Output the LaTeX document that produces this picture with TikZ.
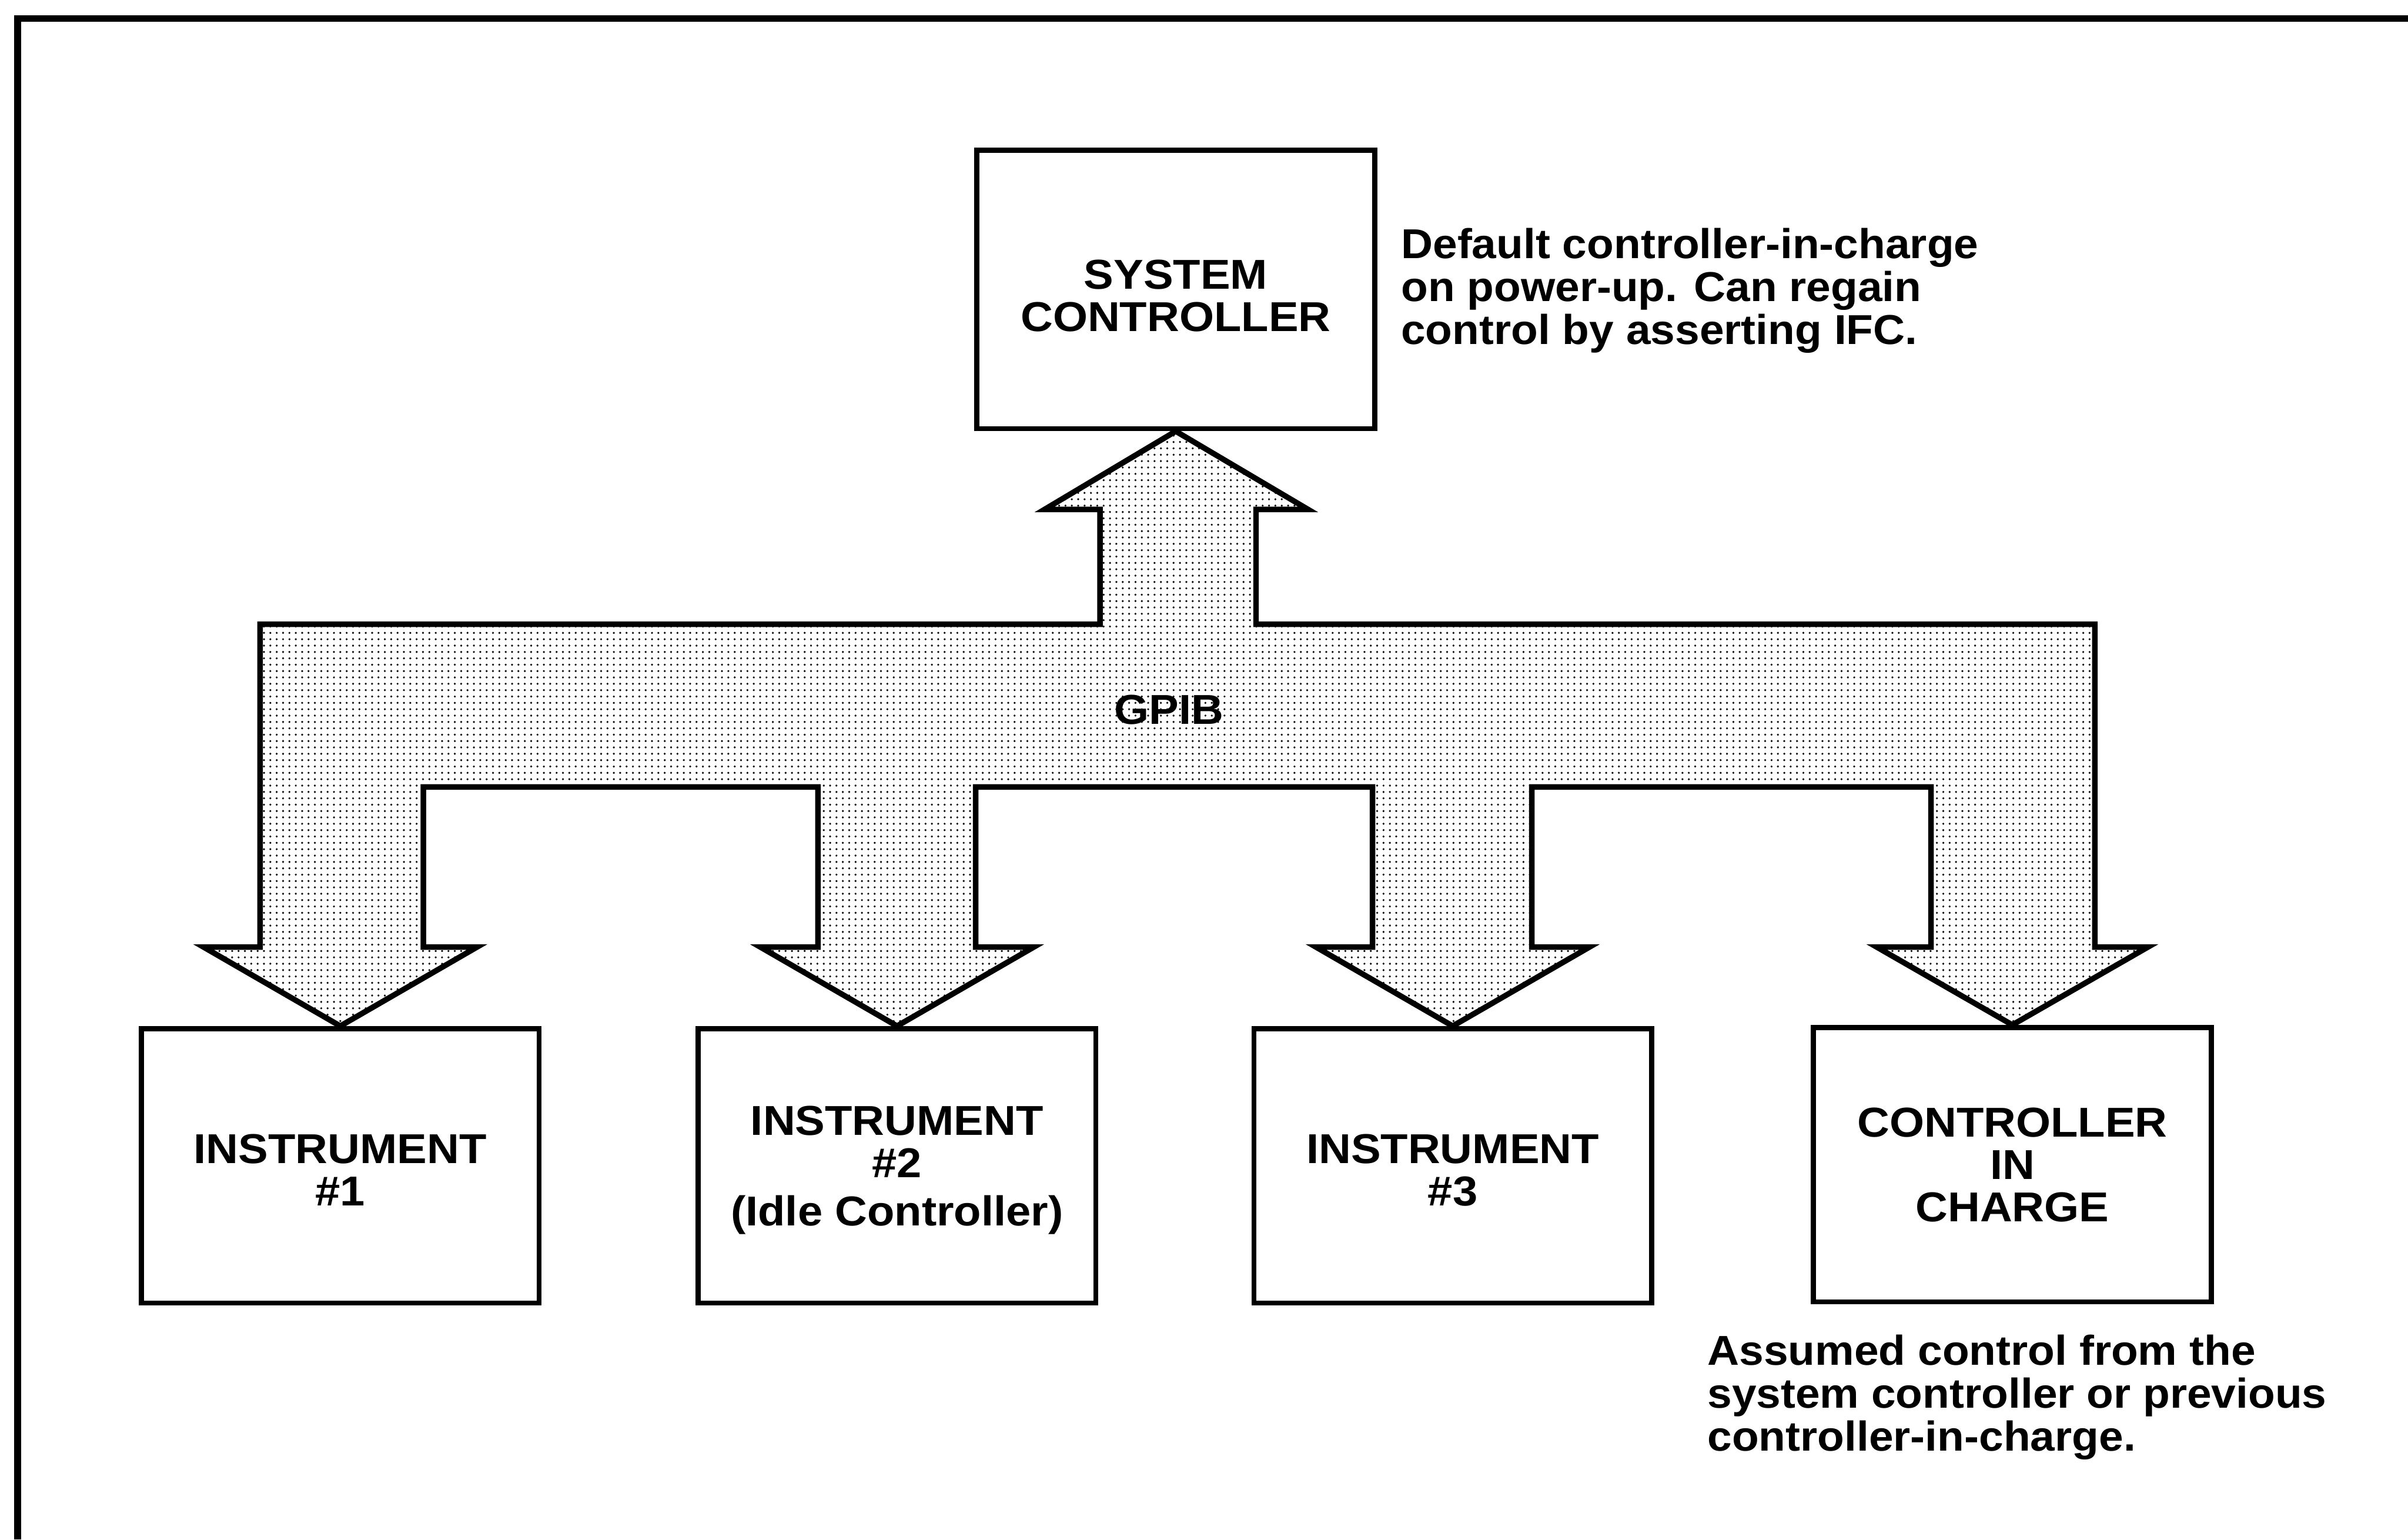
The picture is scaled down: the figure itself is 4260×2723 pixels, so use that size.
\documentclass[tikz,border=0pt]{standalone}
\usepackage{fontspec}
\newfontfamily\lblfont[FakeStretch=1.07]{Liberation Sans Bold}
\newfontfamily\notefont[FakeStretch=1.055]{Liberation Sans Bold}
\usetikzlibrary{patterns}
\pgfdeclarepatternformonly{stip}{\pgfqpoint{-0.1pt}{-0.1pt}}{\pgfqpoint{3.3pt}{3.3pt}}{\pgfqpoint{3.2pt}{3.2pt}}{\pgfpathcircle{\pgfqpoint{1.6pt}{1.6pt}}{0.55pt}\pgfusepath{fill}}
\newcommand{\topstrut}[1]{\rule{0pt}{#1}}
\begin{document}
\begin{tikzpicture}[x=0.01cm,y=-0.01cm,
  txt/.style={font={\lblfont\fontsize{21}{21.3}\selectfont}},
  unit/.style={draw, line width=2.6pt, minimum width=7.03cm, minimum height=4.85cm, inner sep=0pt, align=center, txt},
  note/.style={inner sep=0pt, align=left, anchor=north west, font={\notefont\fontsize{21}{21.6}\selectfont}},
  bus/.style={draw, line width=2.8pt, line join=miter, pattern=stip, pattern color=black},
  frame/.style={line width=3.4pt}]
\useasboundingbox (0,0) rectangle (4260,2723);
\draw[frame] (4260,33) -- (31,33) -- (31,2723);

\node[unit, minimum height=4.92cm] (sys) at (2080,512) {\topstrut{21pt}SYSTEM\\CONTROLLER};
\node[unit] (i1) at (602,2062) {\topstrut{19pt}INSTRUMENT\\\#1};
\node[unit] (i2) at (1587,2062) {\topstrut{19pt}INSTRUMENT\\\#2\\[3pt](Idle Controller)};
\node[unit] (i3) at (2570,2062) {\topstrut{19pt}INSTRUMENT\\\#3};
\node[unit] (cic) at (3560,2060) {CONTROLLER\\IN\\CHARGE};

\path[bus] (460,1104) -- (1946,1104) -- (1946,901) -- (1848,901) -- (sys.south)
  -- (2314,901) -- (2222,901) -- (2222,1104) -- (3706,1104) -- (3706,1675)
  -- (3800,1675) -- (cic.north) -- (3320,1675) -- (3416,1675) -- (3416,1392)
  -- (2710,1392) -- (2710,1675) -- (2812,1675) -- (i3.north) -- (2328,1675)
  -- (2428,1675) -- (2428,1392) -- (1726,1392) -- (1726,1675) -- (1829,1675)
  -- (i2.north) -- (1345,1675) -- (1447,1675) -- (1447,1392) -- (749,1392)
  -- (749,1675) -- (844,1675) -- (i1.north) -- (360,1675) -- (460,1675) -- cycle;

\node[txt] (gpib) at (2068,1255) {GPIB};

\node[note] (n1) at (2478,403) {Default controller-in-charge\\on power-up. Can regain\\control by asserting IFC.};
\node[note] (n2) at (3020,2360) {Assumed control from the\\system controller or previous\\controller-in-charge.};
\end{tikzpicture}
\end{document}
